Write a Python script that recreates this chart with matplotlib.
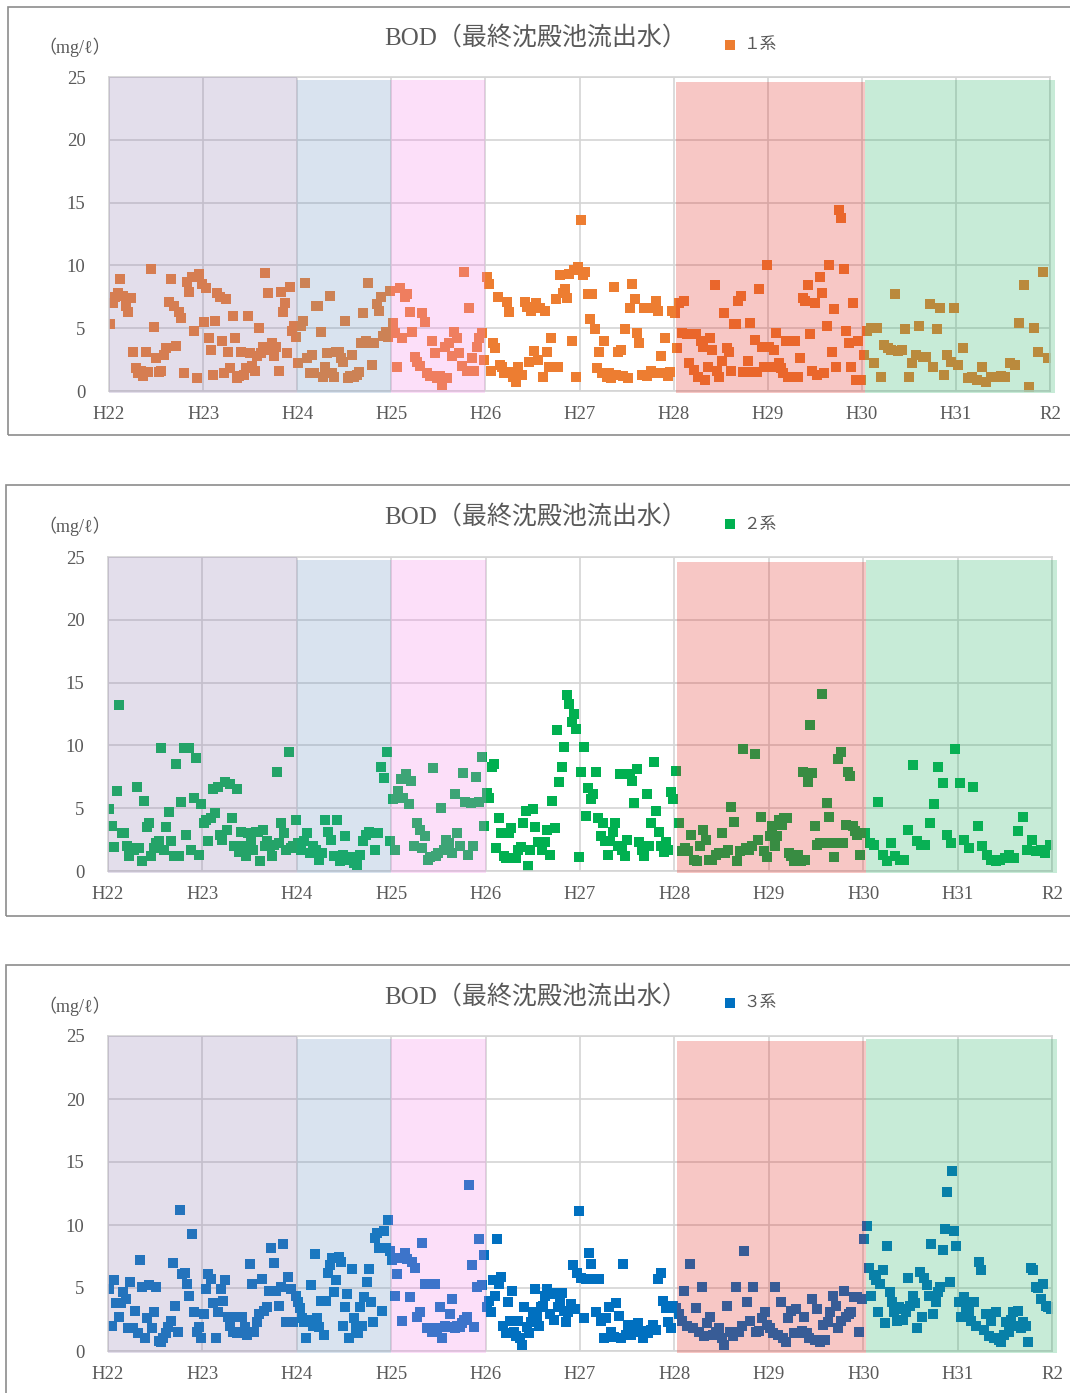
import matplotlib
matplotlib.use("Agg")
import matplotlib.pyplot as plt
from matplotlib.patches import Rectangle
import numpy as np

year_labels = ["H22", "H23", "H24", "H25", "H26", "H27", "H28", "H29", "H30", "H31", "R2"]

# BOD of final sedimentation tank effluent (mg/l), one list per fiscal year
bod_1 = [
    [5.3, 7.0, 7.5, 7.8, 8.9, 7.6, 6.8, 6.3, 7.4, 3.1, 1.8, 1.4, 1.6, 1.2, 3.1, 1.5, 9.7, 5.1, 2.6, 1.5,
     1.6, 2.9, 3.4, 7.1, 8.9, 6.8, 3.6, 6.3, 5.8, 1.4, 8.7, 7.9, 9.1, 4.8, 1.0, 9.3, 8.5],
    [5.5, 8.2, 4.2, 3.3, 1.3, 5.6, 7.8, 7.5, 4.0, 1.4, 7.3, 3.1, 1.8, 6.0, 4.2, 1.0, 1.2, 3.1, 1.3, 1.8,
     6.0, 3.0, 2.0, 1.6, 2.8, 5.0, 3.0, 3.5, 9.4, 7.8, 3.3, 3.8, 2.8, 3.5, 1.6, 7.9, 6.3, 7.0, 3.0, 8.3,
     4.8, 5.2, 4.3],
    [2.2, 5.2, 5.6, 8.6, 2.6, 1.4, 2.9, 1.4, 6.8, 6.8, 4.7, 1.1, 1.9, 3.0, 7.6, 1.4, 1.1, 3.1, 3.1, 2.6,
     2.3, 5.6, 1.0, 1.2, 2.9, 1.1, 1.3, 1.5, 3.8, 6.2, 4.0, 8.6, 3.8, 2.1, 3.8, 6.9, 6.4, 7.5, 4.4, 4.7,
     4.3, 8.0],
    [5.4, 4.6, 1.9, 8.2, 4.2, 7.5, 7.7, 6.3, 4.7, 2.7, 2.3, 2.0, 6.2, 5.5, 1.4, 1.2, 4.0, 3.0, 1.0, 1.2,
     0.5, 3.5, 1.0, 3.8, 2.8, 4.7, 4.2, 3.0, 2.0, 9.5, 1.6, 6.6, 2.6, 1.6, 3.5, 4.2, 4.6, 2.5],
    [9.1, 8.5, 1.6, 3.8, 3.4, 7.5, 2.1, 1.9, 1.4, 7.1, 6.3, 1.5, 1.1, 0.7, 1.9, 1.3, 1.3, 7.1, 6.7, 2.3,
     6.4, 3.2, 7.0, 2.5, 6.6, 1.1, 6.4, 3.1, 1.9, 4.2, 1.9, 7.3, 1.9, 9.2, 7.8, 8.1, 7.4, 9.3, 4.0, 9.6,
     1.1, 9.9],
    [13.6, 9.2, 9.5, 7.7, 5.7, 7.7, 4.9, 1.8, 3.1, 1.4, 4.0, 1.1, 1.4, 1.0, 8.3, 1.3, 3.1, 3.3, 1.2, 4.9,
     1.0, 6.6, 8.5, 7.3, 4.6, 3.8, 1.3, 6.6, 1.2, 6.6, 1.6, 1.4, 7.2, 6.4, 2.8, 1.4, 4.2, 1.2, 1.5, 6.4],
    [6.2, 3.4, 7.0, 4.6, 7.2, 4.5, 2.2, 4.5, 1.7, 4.5, 1.1, 4.0, 3.5, 0.9, 1.9, 4.2, 3.3, 8.4, 1.6, 1.1,
     2.4, 6.2, 3.4, 3.1, 1.6, 5.3, 5.3, 7.2, 7.6, 1.5, 1.5, 2.4, 5.4, 1.5, 4.1, 1.5, 8.1, 3.5, 1.9, 10.0],
    [3.5, 1.9, 3.3, 4.6, 2.2, 1.8, 1.4, 4.0, 1.1, 4.0, 1.1, 4.0, 1.1, 2.6, 7.4, 7.2, 8.4, 4.5, 1.6, 7.0,
     1.3, 9.1, 7.8, 1.4, 5.2, 10.0, 3.1, 6.5, 1.9, 14.4, 13.8, 9.7, 4.8, 3.8, 1.9, 7.0, 0.9, 4.0, 0.9],
    [2.9, 4.8, 5.0, 2.2, 5.0, 1.1, 3.7, 3.4, 3.3, 7.7, 3.2, 3.3, 4.9, 1.1, 2.2, 2.9, 5.2, 2.7, 2.7, 6.9,
     1.9, 4.9, 6.6, 1.3, 2.9, 2.3, 6.6],
    [2.1, 3.4, 1.0, 1.1, 0.9, 1.9, 0.7, 1.1, 1.1, 1.2, 1.1, 2.2, 2.1, 5.4, 8.4, 0.3, 5.0, 3.1, 9.5, 2.6],
]

bod_2 = [
    [4.9, 3.6, 1.9, 6.4, 13.2, 3.0, 3.0, 2.0, 1.2, 1.8, 1.7, 6.7, 1.8, 0.8, 5.6, 3.5, 3.8, 1.2, 1.8, 2.2,
     2.4, 9.8, 1.7, 3.5, 4.7, 2.4, 1.2, 8.5, 1.2, 5.5, 9.8, 2.9, 9.8, 1.7, 5.8, 9.0, 1.3, 5.3],
    [3.8, 4.1, 2.4, 4.2, 6.5, 4.6, 6.7, 2.9, 2.5, 7.1, 3.3, 6.9, 4.2, 2.0, 6.5, 1.5, 3.1, 2.0, 1.2, 3.0,
     2.4, 1.7, 3.1, 3.1, 0.8, 3.3, 2.0, 2.4, 2.0, 1.2, 2.1, 7.9, 2.2, 3.8, 3.0, 1.7, 9.5, 1.8, 2.0, 4.1],
    [2.2, 1.7, 2.4, 3.0, 1.4, 2.0, 1.7, 0.9, 1.4, 4.1, 3.1, 2.5, 1.2, 4.1, 0.8, 1.3, 2.8, 0.9, 1.1, 0.6,
     0.5, 1.3, 2.4, 2.9, 3.1, 3.0, 1.7, 3.0, 8.3, 7.4, 9.5, 2.4],
    [5.7, 1.7, 6.4, 7.3, 5.8, 7.7, 5.3, 7.2, 2.0, 3.8, 3.3, 1.8, 2.8, 0.9, 1.1, 8.2, 1.2, 1.4, 5.0, 1.7,
     2.5, 2.2, 1.4, 6.1, 3.0, 2.0, 7.8, 5.5, 1.3, 5.4, 2.0, 7.5, 5.5, 9.1, 3.6],
    [6.2, 5.8, 8.3, 8.5, 1.8, 4.2, 3.0, 1.2, 1.0, 3.0, 3.4, 1.0, 1.0, 1.7, 1.9, 3.8, 4.8, 0.4, 1.7, 4.9,
     3.5, 2.3, 2.3, 1.7, 2.3, 3.3, 1.3, 5.6, 3.4, 11.2, 7.1, 8.3, 9.9, 14.0, 13.3, 11.9, 12.5, 11.3, 1.1],
    [7.9, 9.9, 4.4, 6.6, 5.7, 6.1, 7.9, 4.2, 2.8, 3.8, 2.4, 1.3, 2.4, 3.1, 3.8, 2.0, 7.7, 1.7, 1.2, 2.5,
     7.7, 7.2, 5.4, 8.1, 2.3, 1.7, 1.2, 6.1, 2.0, 3.8, 8.7, 4.8, 3.1, 2.0, 1.5, 2.3, 1.7, 6.3, 5.7],
    [8.0, 3.8, 1.6, 1.8, 1.6, 2.9, 0.9, 0.8, 2.0, 3.3, 2.5, 0.9, 0.9, 1.3, 1.4, 3.0, 1.4, 1.7, 5.1, 3.9,
     0.8, 1.6, 9.7, 1.8, 1.7, 2.0, 9.3, 2.5, 4.3, 1.6, 1.1],
    [2.8, 3.6, 2.0, 2.8, 4.1, 3.7, 4.2, 4.2, 1.4, 1.2, 0.8, 0.9, 1.3, 0.8, 7.9, 0.9, 7.1, 11.6, 7.8, 3.6,
     2.1, 2.2, 14.1, 2.2, 5.4, 4.3, 2.2, 1.1, 2.2, 8.9, 9.5, 2.2, 3.7, 7.9, 7.6, 3.6, 3.2, 2.9, 1.3, 3.0],
    [3.0, 2.2, 2.1, 5.5, 1.3, 0.8, 2.2, 1.2, 0.9, 0.9, 3.3, 8.4, 2.4, 2.1, 2.1, 3.8, 5.3, 8.3, 7.0, 2.9,
     2.2, 9.7],
    [7.0, 2.5, 1.8, 6.7, 3.6, 2.0, 1.3, 0.9, 0.8, 0.9, 1.0, 1.3, 1.0, 3.2, 4.3, 1.7, 2.5, 1.6, 1.7, 1.4,
     2.1],
]

bod_3 = [
    [4.9, 2.0, 5.6, 3.8, 2.7, 3.8, 4.7, 4.1, 1.8, 5.5, 1.8, 3.2, 1.4, 7.2, 5.1, 1.0, 2.6, 5.2, 1.8, 3.1,
     5.1, 0.8, 0.7, 1.0, 1.4, 1.9, 2.4, 7.0, 3.6, 1.5, 11.2, 6.1, 6.2, 5.3, 4.4, 9.3, 3.1, 1.5, 1.9, 1.0],
    [2.9, 4.9, 6.1, 5.7, 3.8, 1.0, 3.1, 4.9, 4.0, 5.6, 2.7, 2.0, 1.5, 2.7, 1.4, 1.5, 2.7, 1.9, 1.3, 6.9,
     5.3, 1.5, 2.3, 2.9, 5.7, 3.2, 3.5, 4.8, 8.2, 7.0, 4.8, 3.6, 5.1, 8.5, 2.3, 5.9, 4.9, 2.3, 4.4],
    [3.9, 3.4, 2.6, 2.3, 1.0, 2.5, 5.2, 2.0, 7.7, 2.6, 1.9, 4.0, 1.3, 4.0, 6.2, 6.8, 7.4, 4.7, 5.6, 7.5,
     7.1, 2.0, 3.5, 4.5, 1.0, 6.5, 2.6, 1.8, 1.4, 3.5, 2.0, 4.3, 5.5, 6.5, 3.9, 2.3, 9.0, 9.4, 8.2, 3.2,
     9.5, 8.2, 10.4, 7.9],
    [7.2, 4.4, 6.1, 7.4, 2.4, 7.8, 7.3, 4.3, 7.1, 6.6, 2.7, 3.1, 8.6, 5.3, 1.8, 5.3, 1.5, 5.3, 1.8, 3.5,
     1.0, 2.0, 1.9, 2.9, 4.1, 1.8, 2.0, 1.9, 2.2, 2.5, 2.7, 13.2, 6.8, 1.9, 5.1, 8.9, 5.2, 7.6],
    [3.5, 4.0, 3.1, 5.6, 4.4, 8.9, 5.3, 5.9, 2.0, 1.4, 3.9, 2.4, 4.8, 1.5, 1.2, 2.4, 1.0, 0.5, 3.5, 1.9,
     1.4, 2.3, 3.1, 4.9, 2.7, 2.0, 3.5, 3.6, 4.4, 4.9, 2.9, 4.5, 2.5, 4.6, 3.5, 4.0, 4.6, 3.2, 2.3, 3.1,
     3.7, 6.8, 3.3, 6.2, 11.1],
    [5.8, 2.6, 5.7, 7.8, 6.9, 5.7, 3.1, 5.7, 2.4, 1.0, 2.6, 3.5, 1.5, 1.1, 3.8, 2.8, 1.0, 6.9, 1.3, 2.1,
     1.3, 1.9, 1.5, 2.2, 1.6, 1.0, 1.6, 1.4, 1.7, 2.1, 1.7, 5.7, 6.2, 4.0, 3.4, 2.3, 1.8, 3.6],
    [3.4, 2.9, 2.4, 4.8, 2.0, 6.9, 1.8, 3.4, 1.5, 5.1, 1.2, 2.2, 2.7, 1.3, 1.5, 1.8, 1.0, 0.5, 3.6, 1.5,
     1.2, 5.1, 1.5, 2.0, 7.9, 3.9, 2.4, 5.1, 1.5, 1.6, 2.6, 3.1, 2.1],
    [1.8, 1.4, 5.1, 1.3, 3.9, 1.0, 0.7, 2.6, 3.2, 1.4, 3.3, 1.4, 1.6, 2.7, 1.4, 1.0, 4.1, 0.9, 3.3, 0.7,
     2.1, 0.9, 2.3, 3.1, 4.4, 3.6, 1.8, 2.4, 4.8, 2.7, 2.9, 3.1, 4.3, 4.3, 1.5, 4.1],
    [8.9, 9.9, 6.6, 4.4, 6.0, 5.6, 3.1, 5.3, 6.4, 2.2, 8.3, 4.7, 3.9, 3.1, 2.4, 3.5, 3.3, 2.5, 3.1, 5.8,
     3.6, 4.4, 3.8, 1.8, 6.3, 2.7, 5.8, 5.2, 4.4, 8.5, 2.9, 3.9, 4.7, 5.1, 8.0, 9.7, 12.6, 5.5, 14.3, 9.5,
     8.3],
    [3.9, 2.7, 4.3, 3.5, 3.1, 2.4, 3.9, 2.0, 7.1, 6.4, 1.7, 2.9, 1.2, 2.4, 1.0, 3.1, 0.9, 0.7, 1.3, 2.3,
     1.5, 2.5, 3.1, 2.0, 3.2, 1.8, 2.3, 2.0, 0.7, 6.6, 6.4, 5.1, 5.0, 4.1, 5.3, 3.6, 3.5, 3.3],
]

series_names = ["１系", "２系", "３系"]
series_colors = ["#ED7D31", "#00B050", "#0070C0"]

# tinted bands laid over the points: (start, end, colour, top)
bands = [
    (0.0, 2.0, "#937FB3", 25.0),
    (2.0, 3.0, "#6B93C3", 24.8),
    (3.0, 4.0, "#F783EB", 24.8),
    (6.03, 8.03, "#E3231B", 24.6),
    (8.03, 10.05, "#23B363", 24.8),
]

W, H = 1070, 1393
GRID = "#d4d4d4"
TEXT = "#595959"
serif_jp = ["Liberation Serif", "Noto Sans CJK JP"]

# pixel layout of each block: frame (left, top, bottom), axes (left, right, top, bottom)
layouts = [
    dict(frame=(8, 7, 435), ax=(109, 1050, 77, 391), title=38, legend=45, unit=47),
    dict(frame=(6, 485, 916), ax=(108, 1052, 557, 871), title=517, legend=524, unit=526),
    dict(frame=(6, 965, 1410), ax=(108, 1052, 1036, 1351), title=997, legend=1003, unit=1006),
]


def fx(px):
    return px / W


def fy(py):
    return 1 - py / H


def year_points(years):
    xs, ys = [], []
    for k, vals in enumerate(years):
        n = len(vals)
        xs.extend(k + (np.arange(n) + 0.5) / n)
        ys.extend(vals)
    return np.array(xs), np.array(ys)


fig = plt.figure(figsize=(W / 100, H / 100), dpi=100)

for data, name, color, lay in zip([bod_1, bod_2, bod_3], series_names, series_colors, layouts):
    fl, ft, fb = lay["frame"]
    fig.add_artist(Rectangle((fx(fl), fy(fb)), fx(W + 20) - fx(fl), fy(ft) - fy(fb),
                             transform=fig.transFigure, fill=False, edgecolor="#8c8c8c", lw=1.2))

    l, r, t, b = lay["ax"]
    ax = fig.add_axes([fx(l), fy(b), fx(r) - fx(l), fy(t) - fy(b)])
    ax.set_xlim(0, 10)
    ax.set_ylim(0, 25)
    ax.set_xticks(range(11))
    ax.set_xticklabels(year_labels)
    ax.set_yticks([0, 5, 10, 15, 20, 25])
    ax.grid(True, color=GRID, lw=1.2)
    ax.set_axisbelow(True)
    for sp in ax.spines.values():
        sp.set_color(GRID)
        sp.set_linewidth(1.2)
    ax.tick_params(length=0, labelsize=13.5, labelcolor=TEXT)
    ax.tick_params(axis="x", pad=11)
    ax.tick_params(axis="y", pad=17)
    for lab in ax.get_xticklabels() + ax.get_yticklabels():
        lab.set_family(serif_jp)

    xs, ys = year_points(data)
    ax.scatter(xs, ys, marker="s", s=44, color=color, linewidths=0, zorder=2, label=name)

    for x0, x1, c, top in bands:
        ax.add_patch(Rectangle((x0, -0.15), x1 - x0, top + 0.15, facecolor=c, alpha=0.25,
                               lw=0, zorder=3, clip_on=False))

    fig.text(fx(536), fy(lay["title"]), "BOD（最終沈殿池流出水）", ha="center", va="center",
             fontsize=18, color=TEXT, family=serif_jp)
    fig.text(fx(38), fy(lay["unit"]), "（mg/ℓ）", ha="left", va="center",
             fontsize=13, color=TEXT, family=serif_jp)
    ax.legend(loc="center left", bbox_to_anchor=(fx(722), fy(lay["legend"])),
              bbox_transform=fig.transFigure, frameon=False, handletextpad=0.3,
              borderpad=0, borderaxespad=0, handlelength=1.0, markerscale=1.0,
              labelcolor=TEXT, prop={"family": ["Noto Sans CJK JP", "DejaVu Sans"], "size": 12})

fig.savefig("out.png", dpi=100)
